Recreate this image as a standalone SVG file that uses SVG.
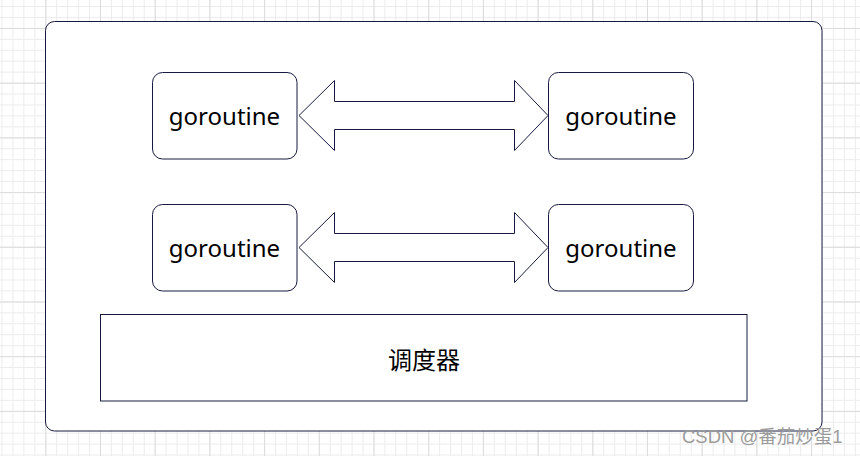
<svg xmlns="http://www.w3.org/2000/svg" width="860" height="456" viewBox="0 0 860 456">
  <defs>
    <pattern id="minor" patternUnits="userSpaceOnUse" x="1.5" y="6" width="10.94" height="10.94">
      <path d="M0.5 0V10.94M0 0.5H10.94" fill="none" stroke="#ececec" stroke-width="1"/>
    </pattern>
    <pattern id="major" patternUnits="userSpaceOnUse" x="45.3" y="28" width="54.7" height="54.7">
      <path d="M0.5 0V54.7M0 0.5H54.7" fill="none" stroke="#dcdcdc" stroke-width="1"/>
    </pattern>
  </defs>
  <style>
    .box { fill: #ffffff; stroke: #161a40; stroke-width: 1; }
    .arrow { fill: #ffffff; stroke: #161a40; stroke-width: 1; stroke-linejoin: miter; }
    .lbl { font-family: "Noto Sans", "Open Sans", "DejaVu Sans", sans-serif; font-size: 24px; fill: #000000; text-anchor: middle; }
    .cjk { font-family: "Noto Sans CJK SC", "Noto Sans", sans-serif; font-size: 24px; fill: #000000; text-anchor: middle; dominant-baseline: central; }
    .wm { font-family: "Liberation Sans", "Noto Sans CJK SC", sans-serif; font-size: 18.5px; fill: #9c9c9c; }
  </style>
  <rect width="860" height="456" fill="#ffffff"/>
  <rect width="860" height="456" fill="url(#minor)"/>
  <rect width="860" height="456" fill="url(#major)"/>

  <g id="container">
    <rect class="box" x="45.5" y="21.5" width="776.5" height="409.5" rx="9" ry="9"/>
  </g>

  <g id="g1">
    <rect class="box" x="152.5" y="72.5" width="144.5" height="86.5" rx="10" ry="10"/>
    <text class="lbl" x="224.5" y="124.5">goroutine</text>
  </g>
  <g id="g2">
    <rect class="box" x="548.5" y="72.5" width="145" height="86.5" rx="10" ry="10"/>
    <text class="lbl" x="621" y="124.5">goroutine</text>
  </g>
  <g id="g3">
    <rect class="box" x="152.5" y="204.5" width="144.5" height="86.5" rx="10" ry="10"/>
    <text class="lbl" x="224.5" y="256.5">goroutine</text>
  </g>
  <g id="g4">
    <rect class="box" x="548.5" y="204.5" width="145" height="86.5" rx="10" ry="10"/>
    <text class="lbl" x="621" y="256.5">goroutine</text>
  </g>

  <g id="scheduler">
    <rect class="box" x="100.5" y="314.5" width="646.5" height="86.5"/>
    <text class="cjk" x="424" y="358">调度器</text>
  </g>

  <g id="connectors">
    <path class="arrow" d="M299 115.5 L334.5 80.5 L334.5 101.5 L514.5 101.5 L514.5 80.5 L548 115.5 L514.5 150.5 L514.5 129.5 L334.5 129.5 L334.5 150.5 Z"/>
    <path class="arrow" d="M299 247.5 L334.5 212.5 L334.5 233.5 L514.5 233.5 L514.5 212.5 L548 247.5 L514.5 282.5 L514.5 261.5 L334.5 261.5 L334.5 282.5 Z"/>
  </g>

  <text class="wm" x="682" y="443">CSDN @番茄炒蛋1</text>
</svg>
